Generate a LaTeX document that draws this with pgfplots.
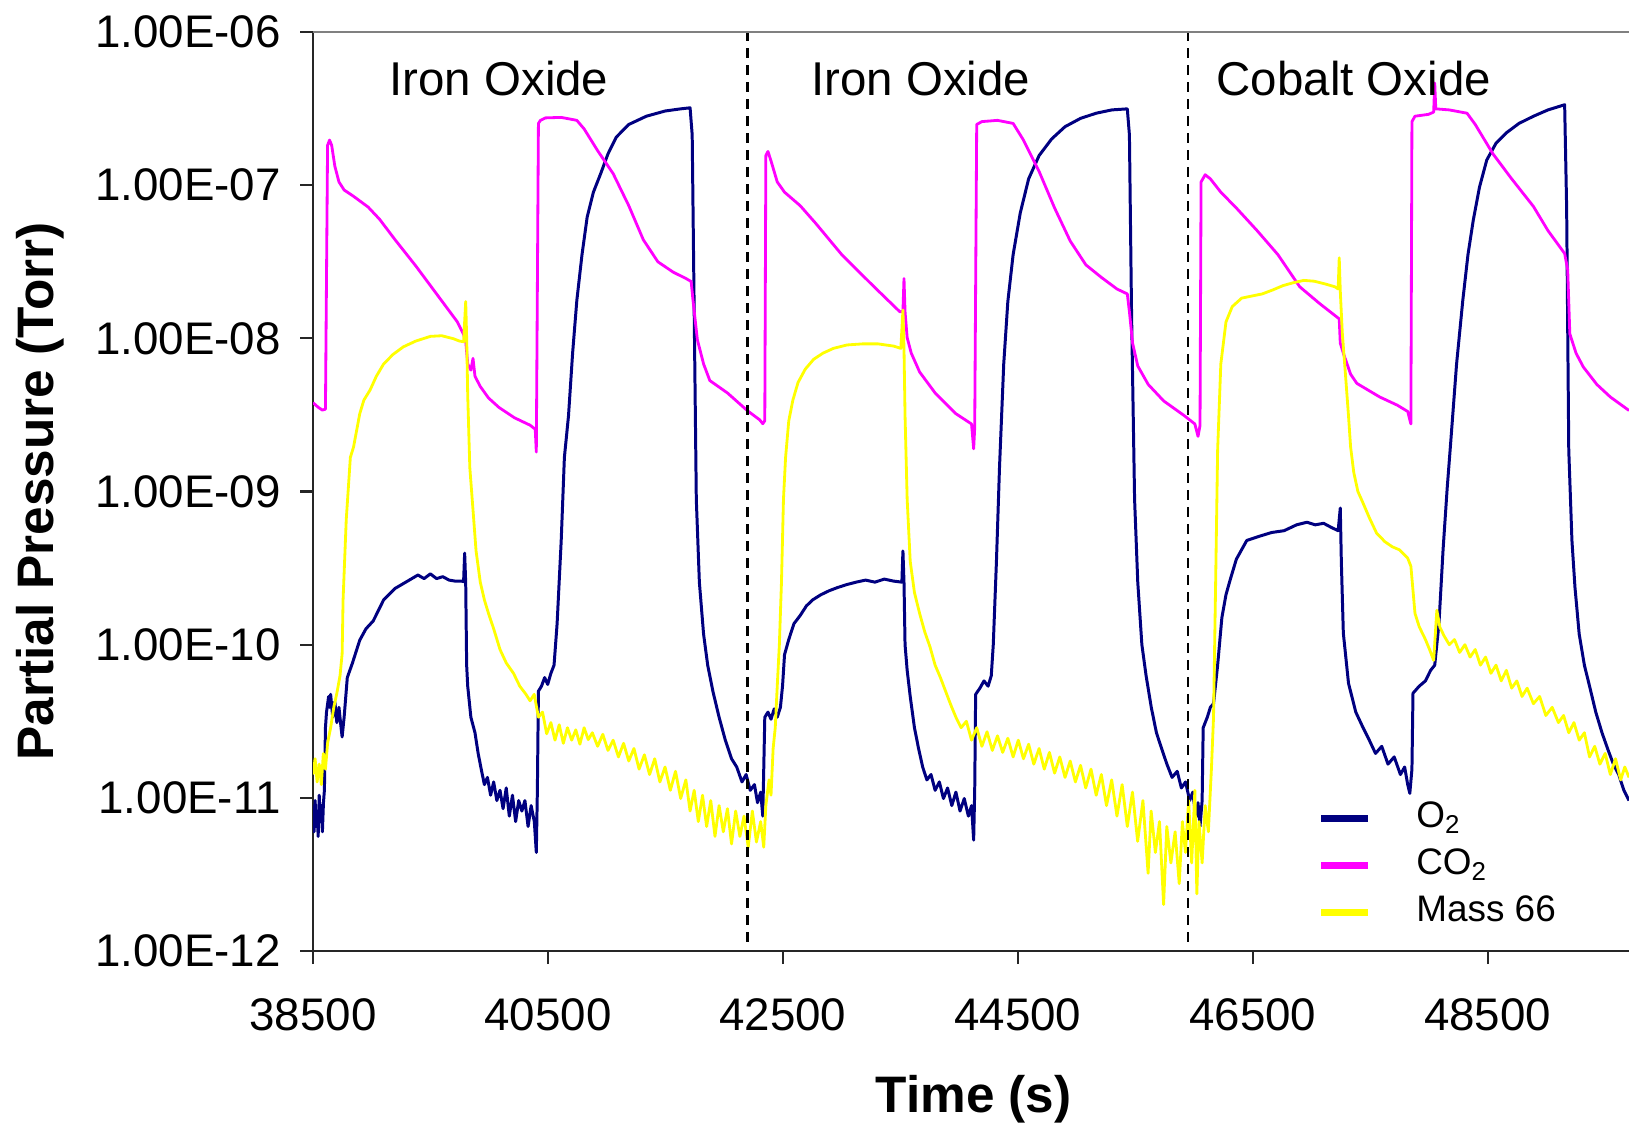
\documentclass[border=0pt]{standalone}
\usepackage{pgfplots}
\pgfplotsset{compat=1.18}
\usepackage{fontspec}
\setmainfont{Liberation Sans}
\definecolor{o2col}{HTML}{000080}
\definecolor{co2col}{HTML}{FF00FF}
\definecolor{m66col}{HTML}{FFFF00}
\begin{document}
\begin{tikzpicture}
\begin{axis}[
  scale only axis, width=13.16cm, height=9.19cm,
  ymode=log, ymin=1e-12, ymax=1e-6,
  xmin=38500, xmax=49703,
  scaled x ticks=false,
  axis x line*=bottom, axis y line*=left,
  axis line style={line width=0.6pt, draw=black!85},
  xtick={38500,40500,42500,44500,46500,48500},
  xticklabels={38500,40500,42500,44500,46500,48500},
  ytick={1e-12,1e-11,1e-10,1e-9,1e-8,1e-7,1e-6},
  yticklabels={1.00E-12,1.00E-11,1.00E-10,1.00E-09,1.00E-08,1.00E-07,1.00E-06},
  yminorticks=false, xminorticks=false,
  tick align=outside, major tick length=1.3mm,
  tick style={line width=0.6pt, black!85},
  ticklabel style={font=\fontsize{13}{15}\selectfont},
  xticklabel shift=2.2mm, yticklabel shift=0.7mm,
  every axis y label/.style={at={(axis description cs:-0.207,0.5)}, rotate=90, anchor=center},
  every axis x label/.style={at={(axis description cs:0.502,-0.161)}, anchor=center},
  ylabel={\fontsize{14.6}{17}\selectfont\bfseries Partial Pressure (Torr)},
  xlabel={\fontsize{14.6}{17}\selectfont\bfseries Time (s)},
  legend style={draw=none, fill=none, at={(0.763,0.171)}, anchor=north west,
    font=\fontsize{10.5}{12}\selectfont, inner sep=0pt,
    nodes={inner sep=0.5mm, text height=2.8mm, text depth=0.9mm}},
  legend cell align=left,
  legend image code/.code={\draw[#1, line width=2pt] (0cm,0cm) -- (0.47cm,0cm); \path[draw=none] (0cm,0cm) -- (0.9cm,0cm);},
  line join=round,
]
\coordinate (SW) at (rel axis cs:0,0);
\coordinate (NW) at (rel axis cs:0,1);
\coordinate (NE) at (rel axis cs:1,1);

\addplot[o2col, line width=0.85pt, no markers] coordinates {
(38500,8.9e-12) (38509,6.0e-12) (38518,9.6e-12) (38527,6.5e-12) (38535,8.2e-12) (38544,5.6e-12) (38553,1.04e-11) (38562,7.0e-12) (38571,8.9e-12) (38580,6.0e-12) (38589,9.3e-12) (38597,1.12e-11) (38606,2.87e-11) (38615,3.63e-11) (38633,4.59e-11) (38641,3.9e-11) (38650,4.74e-11) (38668,3.36e-11) (38686,4.24e-11) (38703,3.1e-11) (38721,3.9e-11) (38739,2.87e-11) (38748,2.5e-11) (38765,3.36e-11) (38792,6.1e-11) (38836,7.6e-11) (38898,1.07e-10) (38951,1.27e-10) (39013,1.43e-10) (39101,1.96e-10) (39199,2.33e-10) (39305,2.6e-10) (39393,2.85e-10) (39446,2.7e-10) (39499,2.9e-10) (39552,2.7e-10) (39605,2.78e-10) (39658,2.64e-10) (39711,2.6e-10) (39764,2.6e-10) (39782,2.58e-10) (39791,3.96e-10) (39800,2.5e-10) (39808,7.35e-11) (39817,5.36e-11) (39844,3.36e-11) (39879,2.66e-11) (39906,1.95e-11) (39932,1.54e-11) (39959,1.22e-11) (39985,1.36e-11) (40012,1.04e-11) (40038,1.27e-11) (40065,9.6e-12) (40092,1.12e-11) (40118,8.5e-12) (40145,1.16e-11) (40171,7.6e-12) (40198,1.04e-11) (40225,7.0e-12) (40251,9.6e-12) (40278,8.2e-12) (40304,9.6e-12) (40331,6.5e-12) (40357,8.9e-12) (40384,7.0e-12) (40401,4.4e-12) (40410,1.12e-11) (40419,4.97e-11) (40445,5.36e-11) (40472,6.1e-11) (40498,5.5e-11) (40525,6.5e-11) (40552,7.35e-11) (40578,1.37e-10) (40613,4.79e-10) (40640,1.67e-9) (40675,3.12e-9) (40710,8.0e-9) (40746,1.77e-8) (40790,3.52e-8) (40834,6.2e-8) (40887,9.0e-8) (40949,1.19e-7) (41011,1.6e-7) (41082,2.06e-7) (41188,2.49e-7) (41338,2.82e-7) (41498,3.05e-7) (41630,3.15e-7) (41710,3.2e-7) (41728,2.13e-7) (41745,1.49e-8) (41763,8.9e-10) (41789,2.56e-10) (41825,1.17e-10) (41860,7.35e-11) (41904,4.97e-11) (41957,3.36e-11) (42010,2.38e-11) (42063,1.8e-11) (42107,1.59e-11) (42152,1.27e-11) (42187,1.42e-11) (42222,1.12e-11) (42258,1.22e-11) (42284,9.3e-12) (42311,1.09e-11) (42329,7.6e-12) (42346,3.36e-11) (42373,3.63e-11) (42399,3.26e-11) (42426,3.81e-11) (42452,3.36e-11) (42479,3.9e-11) (42497,5.36e-11) (42514,8.6e-11) (42550,1.08e-10) (42594,1.37e-10) (42647,1.55e-10) (42700,1.79e-10) (42753,1.96e-10) (42824,2.12e-10) (42894,2.25e-10) (42965,2.36e-10) (43045,2.47e-10) (43124,2.56e-10) (43204,2.64e-10) (43284,2.56e-10) (43363,2.68e-10) (43443,2.6e-10) (43513,2.56e-10) (43522,4.09e-10) (43531,2.56e-10) (43540,1.0e-10) (43558,6.8e-11) (43584,4.59e-11) (43620,2.87e-11) (43655,2.1e-11) (43690,1.59e-11) (43726,1.31e-11) (43761,1.42e-11) (43796,1.12e-11) (43832,1.27e-11) (43867,9.9e-12) (43902,1.16e-11) (43938,8.9e-12) (43973,1.09e-11) (44008,8.2e-12) (44044,9.9e-12) (44079,7.6e-12) (44106,8.9e-12) (44124,5.3e-12) (44133,1.12e-11) (44141,4.74e-11) (44177,5.2e-11) (44212,5.8e-11) (44247,5.36e-11) (44274,6.27e-11) (44291,1.0e-10) (44318,3.5e-10) (44344,1.43e-9) (44380,6.8e-9) (44415,1.74e-8) (44460,3.52e-8) (44521,6.6e-8) (44592,1.1e-7) (44681,1.56e-7) (44787,2.0e-7) (44902,2.41e-7) (45034,2.73e-7) (45167,2.95e-7) (45300,3.1e-7) (45432,3.15e-7) (45450,2.13e-7) (45468,1.49e-8) (45494,8.9e-10) (45521,2.56e-10) (45556,1.0e-10) (45592,6.27e-11) (45636,3.9e-11) (45680,2.66e-11) (45724,2.1e-11) (45769,1.66e-11) (45813,1.36e-11) (45857,1.49e-11) (45892,1.16e-11) (45928,1.27e-11) (45963,9.6e-12) (45989,1.09e-11) (46016,7.5e-12) (46034,9.3e-12) (46051,6.5e-12) (46069,9.6e-12) (46078,2.87e-11) (46113,3.36e-11) (46139,3.9e-11) (46166,4.12e-11) (46201,7.35e-11) (46237,1.5e-10) (46272,2.12e-10) (46307,2.64e-10) (46360,3.61e-10) (46449,4.79e-10) (46555,5.1e-10) (46661,5.4e-10) (46767,5.55e-10) (46873,6.06e-10) (46961,6.3e-10) (47032,6.06e-10) (47103,6.2e-10) (47174,5.8e-10) (47227,5.55e-10) (47245,7.8e-10) (47254,3.5e-10) (47271,1.19e-10) (47315,5.6e-11) (47377,3.63e-11) (47439,2.87e-11) (47492,2.38e-11) (47545,1.95e-11) (47598,2.17e-11) (47651,1.66e-11) (47704,1.85e-11) (47757,1.42e-11) (47793,1.59e-11) (47819,1.22e-11) (47837,1.07e-11) (47855,1.54e-11) (47864,4.82e-11) (47917,5.36e-11) (47970,5.8e-11) (48014,6.8e-11) (48049,7.35e-11) (48085,1.37e-10) (48120,4.16e-10) (48155,1.05e-9) (48182,1.95e-9) (48235,6.8e-9) (48288,1.77e-8) (48332,3.52e-8) (48377,5.9e-8) (48430,9.7e-8) (48492,1.46e-7) (48571,1.88e-7) (48660,2.2e-7) (48766,2.53e-7) (48890,2.82e-7) (49013,3.1e-7) (49155,3.35e-7) (49172,7.1e-8) (49190,1.87e-9) (49217,4.79e-10) (49243,2.36e-10) (49279,1.17e-10) (49323,7.35e-11) (49367,5.36e-11) (49420,3.63e-11) (49473,2.66e-11) (49526,2.04e-11) (49570,1.66e-11) (49615,1.42e-11) (49659,1.12e-11) (49703,9.6e-12)
};
\addlegendentry{O\textsubscript{2}}

\addplot[co2col, line width=0.8pt, no markers] coordinates {
(38500,3.8e-9) (38544,3.55e-9) (38580,3.4e-9) (38606,3.45e-9) (38624,1.82e-7) (38641,1.97e-7) (38659,1.82e-7) (38686,1.33e-7) (38721,1.05e-7) (38765,9.3e-8) (38845,8.46e-8) (38969,7.2e-8) (39066,6.0e-8) (39199,4.4e-8) (39375,2.97e-8) (39552,1.95e-8) (39729,1.28e-8) (39782,1.06e-8) (39800,9.6e-9) (39817,6.8e-9) (39844,6.2e-9) (39862,7.4e-9) (39879,5.65e-9) (39924,4.85e-9) (39994,4.08e-9) (40083,3.54e-9) (40215,3.03e-9) (40348,2.71e-9) (40392,2.55e-9) (40401,1.81e-9) (40419,2.53e-7) (40436,2.65e-7) (40480,2.75e-7) (40613,2.77e-7) (40746,2.65e-7) (40808,2.33e-7) (40923,1.68e-7) (41055,1.19e-7) (41188,7.35e-8) (41312,4.4e-8) (41436,3.16e-8) (41568,2.7e-8) (41674,2.46e-8) (41719,2.35e-8) (41736,1.74e-8) (41772,9.8e-9) (41825,6.8e-9) (41878,5.3e-9) (42028,4.4e-9) (42196,3.38e-9) (42302,2.94e-9) (42329,2.77e-9) (42346,2.9e-9) (42355,1.56e-7) (42373,1.66e-7) (42399,1.44e-7) (42452,1.05e-7) (42514,9.0e-8) (42647,7.35e-8) (42780,5.63e-8) (43001,3.52e-8) (43266,2.21e-8) (43496,1.49e-8) (43522,1.5e-8) (43531,2.46e-8) (43540,1.49e-8) (43558,1.01e-8) (43593,8.0e-9) (43664,6.03e-9) (43796,4.4e-9) (43973,3.22e-9) (44106,2.76e-9) (44124,1.9e-9) (44133,2.6e-9) (44150,2.49e-7) (44194,2.6e-7) (44327,2.65e-7) (44460,2.53e-7) (44548,1.97e-7) (44681,1.23e-7) (44813,7.1e-8) (44946,4.32e-8) (45079,3.02e-8) (45211,2.5e-8) (45344,2.1e-8) (45432,1.95e-8) (45450,1.49e-8) (45477,9.3e-9) (45521,6.6e-9) (45610,5.0e-9) (45742,3.9e-9) (45919,3.12e-9) (46007,2.76e-9) (46034,2.29e-9) (46051,2.7e-9) (46060,1.05e-7) (46095,1.17e-7) (46139,1.1e-7) (46228,9.0e-8) (46360,7.1e-8) (46537,5.05e-8) (46714,3.52e-8) (46900,2.17e-8) (47068,1.69e-8) (47236,1.34e-8) (47245,9.3e-9) (47271,8.0e-9) (47333,5.83e-9) (47386,5.08e-9) (47581,4.14e-9) (47731,3.66e-9) (47819,3.33e-9) (47846,2.76e-9) (47855,2.6e-7) (47881,2.82e-7) (47996,2.9e-7) (48040,3.0e-7) (48049,4.65e-7) (48058,3.15e-7) (48173,3.1e-7) (48324,2.95e-7) (48394,2.49e-7) (48545,1.6e-7) (48704,1.1e-7) (48890,7.25e-8) (49013,5.05e-8) (49155,3.58e-8) (49181,2.8e-8) (49199,1.07e-8) (49252,8.0e-9) (49314,6.5e-9) (49429,5.0e-9) (49544,4.14e-9) (49703,3.38e-9)
};
\addlegendentry{CO\textsubscript{2}}

\addplot[m66col, line width=0.8pt, no markers] coordinates {
(38500,1.42e-11) (38518,1.8e-11) (38535,1.27e-11) (38553,1.66e-11) (38571,1.22e-11) (38588,1.95e-11) (38606,1.54e-11) (38624,2.27e-11) (38650,2.87e-11) (38677,3.9e-11) (38703,4.82e-11) (38730,6.27e-11) (38748,8.7e-11) (38756,1.96e-10) (38783,6.55e-10) (38818,1.67e-9) (38845,1.95e-9) (38898,3.22e-9) (38933,3.95e-9) (38986,4.6e-9) (39039,5.65e-9) (39101,6.8e-9) (39181,7.85e-9) (39269,8.8e-9) (39375,9.6e-9) (39499,1.03e-8) (39596,1.04e-8) (39694,9.95e-9) (39747,9.6e-9) (39782,9.5e-9) (39800,1.74e-8) (39809,9.4e-9) (39817,4.27e-9) (39835,1.43e-9) (39862,7.6e-10) (39888,4.1e-10) (39924,2.56e-10) (39959,1.96e-10) (39994,1.6e-10) (40038,1.27e-10) (40092,9.3e-11) (40145,7.6e-11) (40207,6.5e-11) (40260,5.36e-11) (40313,4.74e-11) (40348,4.3e-11) (40383,4.74e-11) (40419,3.36e-11) (40454,3.63e-11) (40489,2.62e-11) (40525,3.1e-11) (40560,2.38e-11) (40596,3.0e-11) (40631,2.27e-11) (40666,2.87e-11) (40702,2.38e-11) (40737,2.78e-11) (40772,2.24e-11) (40808,2.87e-11) (40843,2.4e-11) (40878,2.66e-11) (40923,2.17e-11) (40967,2.6e-11) (41011,2.04e-11) (41055,2.38e-11) (41100,1.85e-11) (41144,2.27e-11) (41188,1.74e-11) (41232,2.1e-11) (41276,1.54e-11) (41321,1.91e-11) (41365,1.42e-11) (41409,1.8e-11) (41453,1.27e-11) (41497,1.59e-11) (41542,1.12e-11) (41586,1.49e-11) (41630,9.9e-12) (41674,1.31e-11) (41710,8.2e-12) (41745,1.12e-11) (41780,7.0e-12) (41816,1.04e-11) (41851,6.5e-12) (41886,9.6e-12) (41922,5.6e-12) (41957,8.9e-12) (41993,6.0e-12) (42028,8.5e-12) (42063,5.0e-12) (42098,8.2e-12) (42134,5.6e-12) (42169,7.6e-12) (42205,4.76e-12) (42240,8.2e-12) (42275,5.15e-12) (42311,7.0e-12) (42337,4.76e-12) (42355,8.9e-12) (42382,1.31e-11) (42399,1.04e-11) (42417,2.1e-11) (42435,2.87e-11) (42452,5.36e-11) (42470,1.0e-10) (42488,2.56e-10) (42505,8.9e-10) (42523,1.67e-9) (42550,2.89e-9) (42585,3.95e-9) (42629,5.15e-9) (42691,6.3e-9) (42762,7.3e-9) (42841,8.0e-9) (42930,8.6e-9) (43045,9.05e-9) (43177,9.2e-9) (43310,9.2e-9) (43443,8.9e-9) (43504,8.6e-9) (43522,1.53e-8) (43531,8.6e-9) (43540,3.12e-9) (43558,8.9e-10) (43584,3.5e-10) (43620,2.19e-10) (43664,1.6e-10) (43708,1.21e-10) (43752,9.7e-11) (43796,7.35e-11) (43841,6.1e-11) (43885,4.97e-11) (43929,4.05e-11) (43973,3.36e-11) (44017,2.87e-11) (44062,3.16e-11) (44106,2.38e-11) (44150,2.87e-11) (44194,2.17e-11) (44238,2.7e-11) (44283,2.04e-11) (44327,2.54e-11) (44371,1.98e-11) (44415,2.45e-11) (44460,1.85e-11) (44504,2.38e-11) (44548,1.8e-11) (44592,2.24e-11) (44636,1.66e-11) (44681,2.1e-11) (44725,1.54e-11) (44769,1.98e-11) (44813,1.45e-11) (44857,1.85e-11) (44902,1.36e-11) (44946,1.74e-11) (44990,1.27e-11) (45034,1.63e-11) (45078,1.16e-11) (45123,1.54e-11) (45167,1.04e-11) (45211,1.42e-11) (45255,8.9e-12) (45299,1.31e-11) (45344,7.6e-12) (45388,1.22e-11) (45432,6.5e-12) (45476,1.09e-11) (45520,5.2e-12) (45565,9.6e-12) (45609,3.22e-12) (45635,8.2e-12) (45671,4.4e-12) (45706,7.0e-12) (45741,2.01e-12) (45768,6.5e-12) (45803,3.76e-12) (45839,6.0e-12) (45874,2.75e-12) (45901,7.0e-12) (45927,4.4e-12) (45954,9.6e-12) (45980,3.76e-12) (46007,1.12e-11) (46024,2.36e-12) (46042,7.0e-12) (46069,3.76e-12) (46095,8.9e-12) (46122,6.0e-12) (46148,1.54e-11) (46166,3.36e-11) (46184,2.56e-10) (46201,1.87e-9) (46228,6.8e-9) (46272,1.28e-8) (46325,1.61e-8) (46405,1.83e-8) (46493,1.89e-8) (46581,1.95e-8) (46670,2.07e-8) (46758,2.21e-8) (46847,2.31e-8) (46935,2.39e-8) (47024,2.36e-8) (47112,2.27e-8) (47200,2.17e-8) (47227,2.1e-8) (47236,3.36e-8) (47245,2.04e-8) (47262,1.09e-8) (47289,5.83e-9) (47315,3.12e-9) (47333,1.95e-9) (47360,1.33e-9) (47395,1.0e-9) (47439,8.4e-10) (47492,6.75e-10) (47554,5.35e-10) (47625,4.7e-10) (47687,4.36e-10) (47749,4.16e-10) (47819,3.67e-10) (47846,3.25e-10) (47881,1.6e-10) (47917,1.31e-10) (47970,1.08e-10) (48005,9.3e-11) (48040,7.9e-11) (48067,1.68e-10) (48093,1.3e-10) (48129,1.14e-10) (48173,1.0e-10) (48217,1.08e-10) (48261,8.9e-11) (48306,1.0e-10) (48350,8.3e-11) (48394,9.3e-11) (48438,7.35e-11) (48482,8.3e-11) (48527,6.5e-11) (48571,7.35e-11) (48615,5.8e-11) (48659,6.8e-11) (48704,5.2e-11) (48748,5.8e-11) (48792,4.59e-11) (48836,5.2e-11) (48889,4.12e-11) (48942,4.59e-11) (48995,3.45e-11) (49049,3.9e-11) (49102,3.1e-11) (49146,3.45e-11) (49190,2.66e-11) (49234,3.1e-11) (49279,2.38e-11) (49323,2.66e-11) (49367,1.85e-11) (49411,2.17e-11) (49455,1.66e-11) (49500,1.95e-11) (49544,1.42e-11) (49588,1.8e-11) (49632,1.31e-11) (49667,1.59e-11) (49703,1.36e-11)
};
\addlegendentry{Mass 66}

\addplot[black, line width=0.7pt, dash pattern=on 1mm off 0.7mm, forget plot] coordinates {(42200,1.15e-12) (42200,1e-6)};
\addplot[black, line width=0.7pt, dash pattern=on 1mm off 0.7mm, forget plot] coordinates {(45950,1.15e-12) (45950,1e-6)};

\node[font=\fontsize{13.5}{16}\selectfont] at (axis cs:40083,5.0e-7) {Iron Oxide};
\node[font=\fontsize{13.5}{16}\selectfont] at (axis cs:43673,5.0e-7) {Iron Oxide};
\node[font=\fontsize{13.5}{16}\selectfont] at (axis cs:47360,5.0e-7) {Cobalt Oxide};
\end{axis}
\draw[black!50, line width=0.7pt] (NW) -- (NE);
\pgfresetboundingbox
\path[use as bounding box] ([shift={(-3.13cm,-1.79cm)}]SW) rectangle ([shift={(13.16cm,9.51cm)}]SW);
\end{tikzpicture}
\end{document}
